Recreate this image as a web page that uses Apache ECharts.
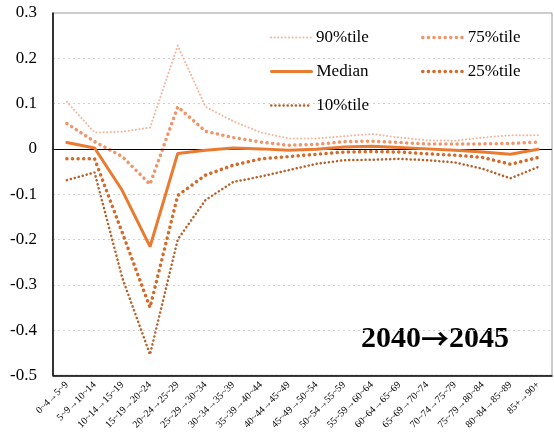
<!DOCTYPE html>
<html>
<head>
<meta charset="utf-8">
<script src="https://cdn.jsdelivr.net/npm/echarts@6/dist/echarts.min.js"></script>
<style>
  html, body { margin: 0; padding: 0; background: #fff; }
  #chart { width: 554px; height: 432px; }
</style>
</head>
<body>
<div id="chart"></div>
<script>
// 年齢階級（移動）
var categories = ['0~4→5~9', '5~9→10~14', '10~14→15~19', '15~19→20~24', '20~24→25~29',
  '25~29→30~34', '30~34→35~39', '35~39→40~44', '40~44→45~49', '45~49→50~54',
  '50~54→55~59', '55~59→60~64', '60~64→65~69', '65~69→70~74', '70~74→75~79',
  '75~79→80~84', '80~84→85~89', '85+→90+'];

var p90 = [0.104, 0.036, 0.038, 0.047, 0.228, 0.093, 0.061, 0.036, 0.023, 0.023, 0.028, 0.033, 0.025, 0.019, 0.018, 0.025, 0.030, 0.030];
var p75 = [0.056, 0.016, -0.017, -0.078, 0.093, 0.039, 0.025, 0.015, 0.008, 0.010, 0.016, 0.017, 0.014, 0.011, 0.011, 0.011, 0.012, 0.015];
var median = [0.014, 0.002, -0.092, -0.216, -0.010, -0.003, 0.002, 0.000, -0.003, -0.001, 0.004, 0.006, 0.003, 0.000, -0.003, -0.007, -0.012, -0.001];
var p25 = [-0.022, -0.022, -0.185, -0.350, -0.103, -0.058, -0.036, -0.022, -0.017, -0.012, -0.007, -0.006, -0.007, -0.011, -0.014, -0.019, -0.034, -0.019];
var p10 = [-0.069, -0.052, -0.285, -0.454, -0.200, -0.113, -0.073, -0.061, -0.047, -0.033, -0.025, -0.024, -0.022, -0.025, -0.030, -0.044, -0.065, -0.040];

var FONT = '"Liberation Serif", "Times New Roman", serif';

var chart = echarts.init(document.getElementById('chart'));

function line(name, data, color, width, dash, z) {
  return {
    name: name,
    type: 'line',
    data: data,
    symbol: 'none',
    z: z,
    lineStyle: { color: color, width: width, type: dash, cap: 'round' },
    itemStyle: { color: color }
  };
}

function legendAt(name, left, top, width) {
  return {
    data: [name],
    left: left,
    top: top,
    padding: 0,
    itemWidth: 40,
    itemHeight: 12,
    itemGap: 0,
    selectedMode: false,
    itemStyle: { opacity: 0 },
    lineStyle: { width: width },
    textStyle: { fontFamily: FONT, fontSize: 17, color: '#000' }
  };
}

var medianSeries = line('Median', median, '#E97A30', 3, 'solid', 6);
medianSeries.markLine = {
  silent: true,
  symbol: 'none',
  label: { show: false },
  lineStyle: { color: '#000', width: 1, type: 'solid' },
  data: [{ yAxis: 0 }]
};

chart.setOption({
  animation: false,
  grid: {
    left: 53, right: 2, top: 13, bottom: 55,
    show: true, borderColor: '#9a9a9a', borderWidth: 1
  },
  legend: [
    legendAt('90%tile', 270, 29, 2),
    legendAt('75%tile', 421, 29, 3.5),
    legendAt('Median', 270, 63, 3),
    legendAt('25%tile', 421, 63, 3.5),
    legendAt('10%tile', 270, 97, 2.5)
  ],
  xAxis: {
    type: 'category',
    data: categories,
    boundaryGap: true,
    axisLine: { onZero: false, lineStyle: { color: '#000', width: 1.5 } },
    axisTick: { show: false },
    axisLabel: {
      interval: 0, rotate: 45, margin: 8,
      fontFamily: FONT, fontSize: 10, color: '#000'
    }
  },
  yAxis: {
    type: 'value',
    min: -0.5, max: 0.3, interval: 0.1,
    axisLine: { show: true, lineStyle: { color: '#000', width: 1.5 } },
    axisTick: { show: false },
    axisLabel: {
      margin: 16, fontFamily: FONT, fontSize: 17, color: '#000',
      formatter: function (v) {
        var r = Math.round(v * 10) / 10;
        return r === 0 ? '0' : r.toFixed(1);
      }
    },
    splitLine: { lineStyle: { color: '#d0d0d0', width: 1, type: [2, 3] } }
  },
  graphic: [{
    type: 'text',
    left: 361, top: 324,
    style: {
      text: '{a|2040}{b|→}{a|2045}',
      rich: {
        a: { fontFamily: FONT, fontWeight: 'bold', fontSize: 30, fill: '#000' },
        b: { fontFamily: '"Noto Sans CJK JP"', fontWeight: 'bold', fontSize: 28, fill: '#000' }
      }
    }
  }],
  series: [
    line('90%tile', p90, '#F5B59A', 2, [0.1, 3.5], 2),
    line('75%tile', p75, '#F0946A', 3.5, [0.1, 5.5], 3),
    medianSeries,
    line('25%tile', p25, '#D26A2A', 3.5, [0.1, 5.5], 4),
    line('10%tile', p10, '#B85E26', 2.5, [0.1, 4], 5)
  ]
});
</script>
</body>
</html>
